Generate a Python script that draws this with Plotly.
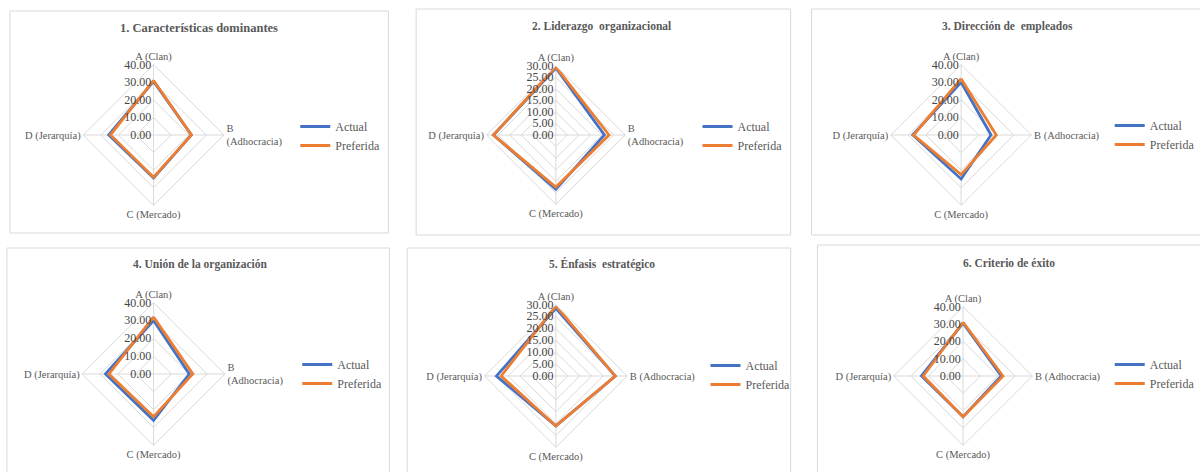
import plotly.graph_objects as go

W, H = 1200, 472

# Competing Values categories (OCAI) and the two profiles per dimension
categories = ["A (Clan)", "B (Adhocracia)", "C (Mercado)", "D (Jerarquía)"]
labels_wrapped = ["A (Clan)", "B<br>(Adhocracia)", "C (Mercado)", "D (Jerarquía)"]

titles = [
    "1. Características dominantes",
    "2. Liderazgo  organizacional",
    "3. Dirección de  empleados",
    "4. Unión de la organización",
    "5. Énfasis  estratégico",
    "6. Criterio de éxito",
]

actual_1 = [30.5, 21.5, 24.5, 25.5]
preferida_1 = [31.0, 21.5, 24.0, 24.5]
actual_2 = [29.0, 21.0, 23.5, 27.0]
preferida_2 = [29.5, 23.0, 22.5, 27.0]
actual_3 = [30.0, 17.0, 25.0, 27.5]
preferida_3 = [32.0, 20.0, 22.5, 27.0]
actual_4 = [30.0, 20.0, 26.0, 27.0]
preferida_4 = [32.0, 22.0, 24.0, 25.0]
actual_5 = [28.5, 25.0, 21.0, 25.0]
preferida_5 = [29.5, 25.0, 21.0, 23.0]
actual_6 = [30.5, 22.0, 23.5, 24.0]
preferida_6 = [31.0, 23.0, 23.5, 23.0]

actual = [actual_1, actual_2, actual_3, actual_4, actual_5, actual_6]
preferida = [preferida_1, preferida_2, preferida_3, preferida_4, preferida_5, preferida_6]

axis_max = [40, 30, 40, 40, 30, 40]
axis_step = [10, 5, 10, 10, 5, 10]
wrap_b = [True, True, False, True, False, False]

# Layout of each panel (pixels): frame box, radar centre/radius, title, legend
frames = [(10, 11, 392, 233), (420, 9, 798, 235), (819, 9, 1215, 235),
          (7, 248, 393, 490), (411, 248, 798, 490), (825, 245, 1215, 490)]
centers = [(155, 135, 71), (561, 135, 70), (970, 135, 71),
           (155, 374, 72), (561, 376, 72), (972, 376, 70)]
title_pos = [(201, 28, 12.5), (607, 27, 11.5), (1017, 27, 11.5),
             (202, 264, 11.5), (608, 264, 11.5), (1018, 263, 11.5)]
legend_pos = [(298, 112), (704, 112), (1120, 111),
              (300, 350), (712, 351), (1120, 350)]

BLUE = "#4472C4"
ORANGE = "#ED7D31"
GRID = "#d9d9d9"
TEXT = "#595959"
TICK_TEXT = "#454545"
SERIF = "Liberation Serif, Times New Roman, serif"

fig = go.Figure()
layout = dict(
    width=W, height=H,
    margin=dict(l=0, r=0, t=0, b=0),
    paper_bgcolor="white", plot_bgcolor="white",
    font=dict(family=SERIF, color=TEXT),
    shapes=[], annotations=[],
)


def closed(seq):
    return list(seq) + [seq[0]]


for i in range(6):
    n = "" if i == 0 else str(i + 1)
    polar_name = "polar" + n
    legend_name = "legend" + n

    for name, vals, color in (("Actual", actual[i], BLUE),
                              ("Preferida", preferida[i], ORANGE)):
        fig.add_trace(go.Scatterpolar(
            r=closed(vals), theta=closed(categories),
            mode="lines", name=name,
            line=dict(color=color, width=2.8),
            subplot=polar_name, legend=legend_name,
        ))

    cx, cy, rad = centers[i]
    layout[polar_name] = dict(
        domain=dict(x=[(cx - rad) / W, (cx + rad) / W],
                    y=[1 - (cy + rad) / H, 1 - (cy - rad) / H]),
        gridshape="linear",
        bgcolor="rgba(0,0,0,0)",
        radialaxis=dict(
            range=[0, axis_max[i]], dtick=axis_step[i], tick0=0,
            tickformat=".2f", angle=90, tickangle=90,
            side="counterclockwise",
            showline=False, ticks="", gridcolor=GRID, gridwidth=1,
            tickfont=dict(size=12, color=TICK_TEXT, family=SERIF),
        ),
        angularaxis=dict(
            direction="clockwise", rotation=90,
            categoryarray=categories, categoryorder="array",
            tickmode="array", tickvals=categories,
            ticktext=labels_wrapped if wrap_b[i] else categories,
            showline=True, linecolor=GRID, linewidth=1,
            gridcolor=GRID, gridwidth=1, ticks="",
            tickfont=dict(size=10.5, color=TEXT, family=SERIF),
        ),
    )

    lx, ly = legend_pos[i]
    layout[legend_name] = dict(
        x=lx / W, y=1 - ly / H, xanchor="left", yanchor="top",
        bgcolor="rgba(0,0,0,0)", borderwidth=0,
        font=dict(size=12, color=TEXT, family=SERIF),
        tracegroupgap=0,
    )

    x0, y0, x1, y1 = frames[i]
    layout["shapes"].append(dict(
        type="rect", xref="paper", yref="paper",
        x0=x0 / W, x1=x1 / W, y0=1 - y1 / H, y1=1 - y0 / H,
        line=dict(color=GRID, width=1), fillcolor="rgba(0,0,0,0)",
        layer="below",
    ))

    tx, ty, ts = title_pos[i]
    layout["annotations"].append(dict(
        text="<b>" + titles[i] + "</b>", x=tx / W, y=1 - ty / H,
        xref="paper", yref="paper", xanchor="center", yanchor="middle",
        showarrow=False, font=dict(size=ts, color=TEXT, family=SERIF),
    ))

fig.update_layout(**layout)
fig.write_html("out.html")
